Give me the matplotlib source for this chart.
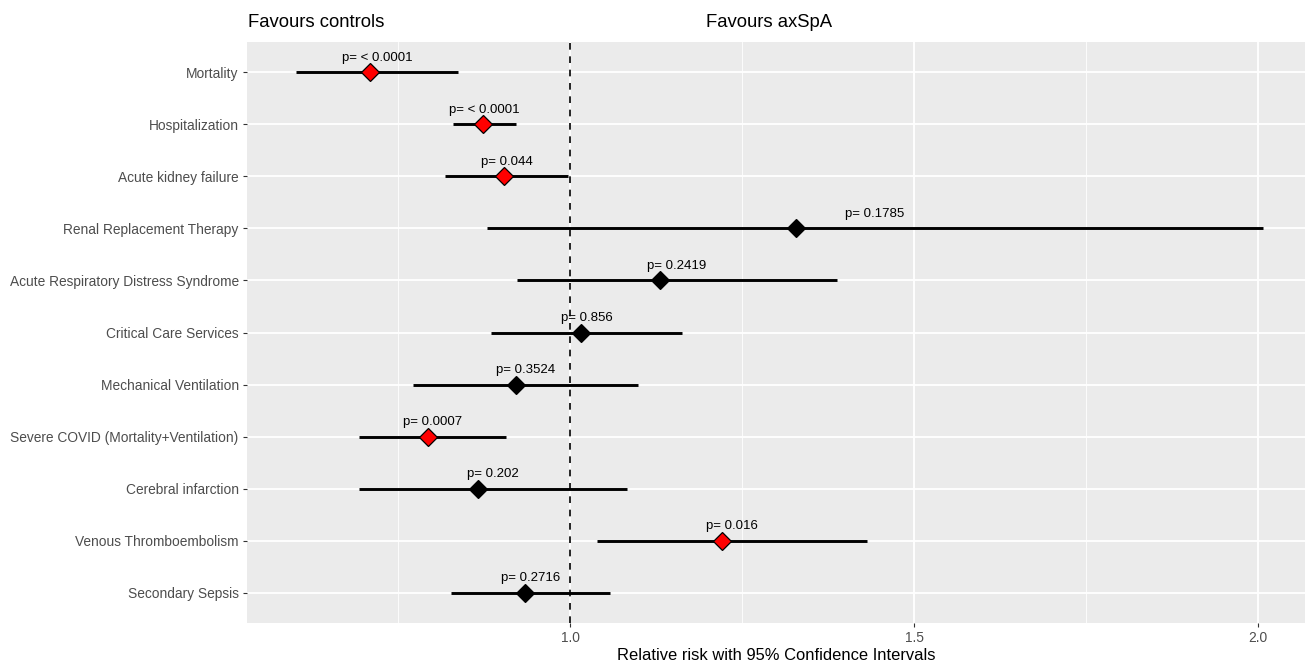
import matplotlib.pyplot as plt
from matplotlib.ticker import MultipleLocator

plt.rcParams['font.family'] = ['Liberation Sans', 'DejaVu Sans']

# Outcomes, top to bottom
outcomes = [
    "Mortality",
    "Hospitalization",
    "Acute kidney failure",
    "Renal Replacement Therapy",
    "Acute Respiratory Distress Syndrome",
    "Critical Care Services",
    "Mechanical Ventilation",
    "Severe COVID (Mortality+Ventilation)",
    "Cerebral infarction",
    "Venous Thromboembolism",
    "Secondary Sepsis",
]
rr = [0.709, 0.873, 0.904, 1.328, 1.131, 1.015, 0.921, 0.793, 0.866, 1.220, 0.934]
ci_low = [0.601, 0.830, 0.818, 0.879, 0.923, 0.885, 0.771, 0.693, 0.693, 1.039, 0.827]
ci_high = [0.837, 0.921, 0.997, 2.007, 1.387, 1.162, 1.098, 0.907, 1.082, 1.432, 1.057]
p_values = [0.00001, 0.00001, 0.044, 0.1785, 0.2419, 0.856, 0.3524, 0.0007, 0.202, 0.016, 0.2716]
p_labels = ["p= < 0.0001", "p= < 0.0001", "p= 0.044", "p= 0.1785", "p= 0.2419", "p= 0.856",
            "p= 0.3524", "p= 0.0007", "p= 0.202", "p= 0.016", "p= 0.2716"]

fig = plt.figure(figsize=(13.11, 6.65), dpi=100)
ax = fig.add_axes([0.1884, 0.0632, 0.807, 0.8736])
ax.set_facecolor("#EBEBEB")

n = len(outcomes)
ypos = [n - i for i in range(n)]

# grid
ax.xaxis.set_major_locator(MultipleLocator(0.5))
ax.xaxis.set_minor_locator(MultipleLocator(0.25))
ax.grid(which="major", color="white", linewidth=1.3)
ax.grid(which="minor", axis="x", color="white", linewidth=0.6)
ax.set_axisbelow(True)

ax.axvline(1.0, color="black", linestyle=(0, (4, 4)), linewidth=1.2, zorder=2)

for y, m, lo, hi, p, lab in zip(ypos, rr, ci_low, ci_high, p_values, p_labels):
    ax.plot([lo, hi], [y, y], color="black", linewidth=2.1, zorder=3, solid_capstyle="butt")
    col = "red" if p < 0.05 else "black"
    ax.plot(m, y, marker="D", markersize=9.5, color=col, markeredgecolor="black",
            markeredgewidth=0.9, zorder=4)
    ax.text((lo + hi) / 2, y + 0.17, lab, ha="center", va="bottom", fontsize=9.5,
            color="black", zorder=5)

ax.set_xlim(0.53, 2.068)
ax.set_ylim(0.415, n + 0.585)
ax.set_yticks(ypos)
ax.set_yticklabels(outcomes)
ax.set_xticks([1.0, 1.5, 2.0])
ax.set_xticklabels(["1.0", "1.5", "2.0"])
ax.tick_params(axis="both", which="major", length=3, color="#333333", labelcolor="#4D4D4D",
               labelsize=9.9, pad=3)
ax.tick_params(axis="x", which="minor", length=0)
for s in ax.spines.values():
    s.set_visible(False)

ax.set_xlabel("Relative risk with 95% Confidence Intervals", fontsize=11.9, labelpad=2)

fig.text(0.1892, 0.966, "Favours controls", fontsize=13.3, ha="left", va="center")
fig.text(0.587, 0.966, "Favours axSpA", fontsize=13.3, ha="center", va="center")

fig.savefig("out.png", dpi=100)
